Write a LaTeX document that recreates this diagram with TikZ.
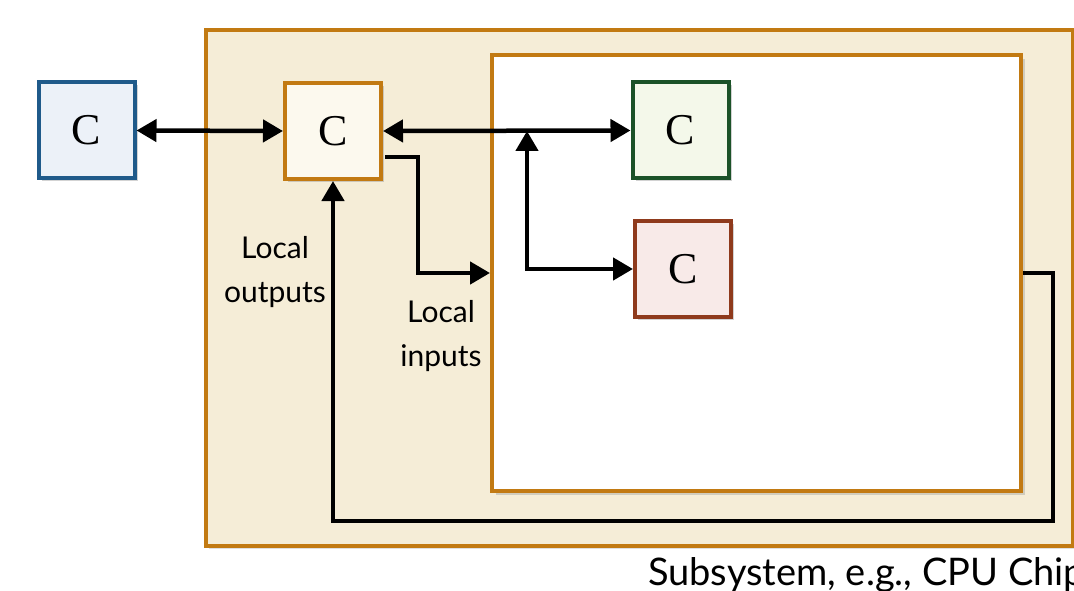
\documentclass[tikz,border=0pt]{standalone}
\usepackage{fontspec}
\setsansfont{Lato}
\newfontfamily\cfont{Liberation Serif}
\usetikzlibrary{arrows.meta,shadows,calc}
\definecolor{outerfill}{HTML}{F5EDD7}
\definecolor{orangeb}{HTML}{C27A12}
\definecolor{creamfill}{HTML}{FCF9EE}
\definecolor{bluefill}{HTML}{ECF1F8}
\definecolor{blueb}{HTML}{1F5A8A}
\definecolor{greenfill}{HTML}{F4F8EA}
\definecolor{greenb}{HTML}{1B5228}
\definecolor{redfill}{HTML}{F8EAE8}
\definecolor{redb}{HTML}{8F3A1C}
\tikzset{
  cbox/.style={draw, line width=4pt, minimum width=96pt, minimum height=96pt, inner sep=0pt,
    font={\cfont\fontsize{44}{44}\selectfont},
    drop shadow={shadow xshift=3pt, shadow yshift=-3pt, opacity=0.35}},
  conn/.style={line width=4.5pt, -{Triangle[length=20pt,width=22pt]}},
  dconn/.style={line width=4.5pt, {Triangle[length=20pt,width=22pt]}-{Triangle[length=20pt,width=22pt]}},
  lbl/.style={font={\sffamily\fontsize{30}{44}\selectfont}, align=center},
}
\begin{document}
\begin{tikzpicture}[x=1pt,y=-1pt]
\useasboundingbox (0,0) rectangle (1074,591);
% outer subsystem
\node[draw=orangeb, fill=outerfill, line width=4pt, minimum width=867pt, minimum height=516pt, inner sep=0pt,
  drop shadow={shadow xshift=3pt, shadow yshift=-3pt, opacity=0.25}] (outer) at (639.5,288) {};
% inner box
\node[draw=orangeb, fill=white, line width=4pt, minimum width=529pt, minimum height=436pt, inner sep=0pt,
  drop shadow={shadow xshift=4pt, shadow yshift=-4pt, opacity=0.3}] (inner) at (756.5,273) {};
% component boxes
\node[cbox, draw=blueb, fill=bluefill] (blue) at (86.5,130.5) {C};
\node[cbox, draw=orangeb, fill=creamfill] (cream) at (333,131) {C};
\node[cbox, draw=greenb, fill=greenfill] (green) at (680.5,130.5) {C};
\node[cbox, draw=redb, fill=redfill] (red) at (683,269) {C};
% connectors
\coordinate (j) at (527,131);
\coordinate (co) at ($(cream.east)+(2,26)$);
\coordinate (fb) at (1053,521);
\draw[dconn] (blue.east) -- (cream.west);
\draw[dconn] (cream.east) -- (green.west);
\draw[dconn] (j) |- (red.west);
\draw[conn] (co) -- ++(33,0) |- (inner.west);
\draw[conn] (inner.east) -| (fb) -| (cream.south);
% labels
\node[lbl] (lout) at (275,272) {Local\\outputs};
\node[lbl] (lin) at (441,336) {Local\\inputs};
\node[font={\sffamily\fontsize{38}{38}\selectfont}, anchor=base west, inner sep=0pt] (sub) at (648,585) {Subsystem, e.g., CPU Chip};
\end{tikzpicture}
\end{document}
